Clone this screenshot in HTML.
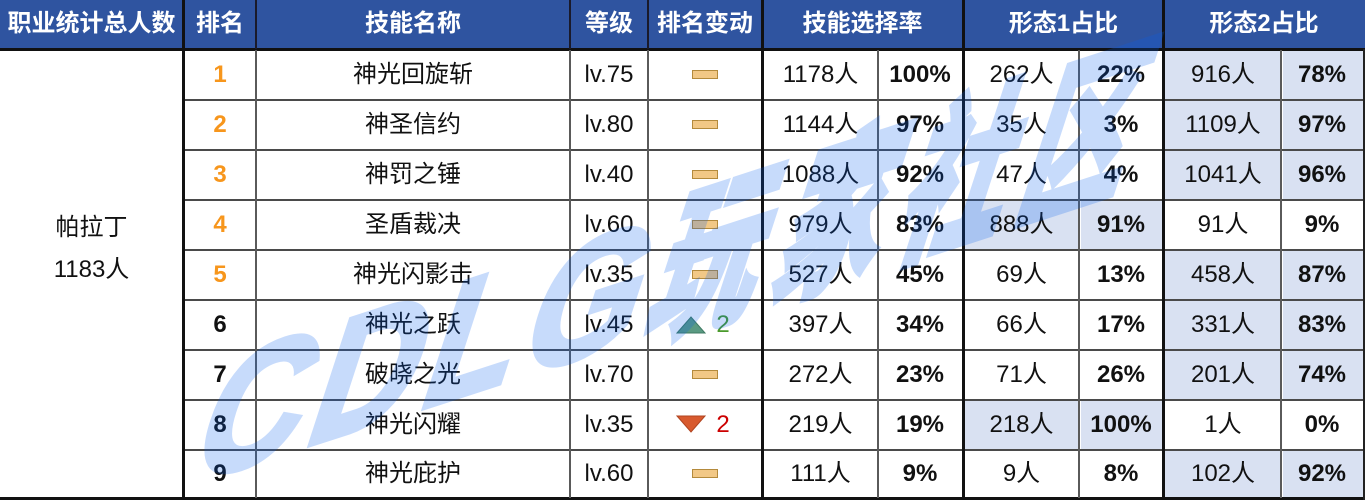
<!DOCTYPE html>
<html><head><meta charset="utf-8">
<style>
*{margin:0;padding:0;box-sizing:border-box}
html,body{width:1365px;height:500px;overflow:hidden;background:#fff}
body{position:relative;font-family:"Liberation Sans","Noto Sans CJK SC",sans-serif;font-size:24px;line-height:24px;color:#111}
.a{position:absolute}
.c{position:absolute;display:flex;align-items:center;justify-content:center;white-space:nowrap;line-height:24px}
.h{color:#fff;font-weight:bold;top:0;height:48px}
.b{font-weight:bold}
.o{color:#f7961c;font-weight:bold}
.hl{position:absolute;background:#d9e1f2}
.vt{position:absolute;top:50px;height:448px;width:2px;background:#5a5a5a}
.vk{position:absolute;top:0;height:500px;width:3px;background:#111}
.vh{position:absolute;top:0;height:49px;width:2px;background:#1a1a2a}
.hr{position:absolute;left:184px;width:1181px;height:2px;background:#4a4a4a}
.rect{position:absolute;width:26px;height:9px;background:#f2c886;border:1px solid #b48a3c}
</style></head><body>

<!-- header -->
<div class="a" style="left:0;top:0;width:1365px;height:49px;background:#2f54a0"></div>

<!-- highlights -->
<div class="hl" style="left:1165px;top:51px;width:116px;height:48px"></div><div class="hl" style="left:1283px;top:51px;width:80px;height:48px"></div>
<div class="hl" style="left:1165px;top:101px;width:116px;height:48px"></div><div class="hl" style="left:1283px;top:101px;width:80px;height:48px"></div>
<div class="hl" style="left:1165px;top:151px;width:116px;height:48px"></div><div class="hl" style="left:1283px;top:151px;width:80px;height:48px"></div>
<div class="hl" style="left:964px;top:201px;width:115px;height:48px"></div><div class="hl" style="left:1081px;top:201px;width:81px;height:48px"></div>
<div class="hl" style="left:1165px;top:251px;width:116px;height:48px"></div><div class="hl" style="left:1283px;top:251px;width:80px;height:48px"></div>
<div class="hl" style="left:1165px;top:301px;width:116px;height:48px"></div><div class="hl" style="left:1283px;top:301px;width:80px;height:48px"></div>
<div class="hl" style="left:1165px;top:351px;width:116px;height:48px"></div><div class="hl" style="left:1283px;top:351px;width:80px;height:48px"></div>
<div class="hl" style="left:964px;top:401px;width:115px;height:48px"></div><div class="hl" style="left:1081px;top:401px;width:81px;height:48px"></div>
<div class="hl" style="left:1165px;top:451px;width:116px;height:46px"></div><div class="hl" style="left:1283px;top:451px;width:80px;height:46px"></div>

<!-- horizontal lines -->
<div class="a" style="left:0;top:48px;width:1365px;height:3px;background:#111"></div>
<div class="hr" style="top:99px"></div>
<div class="hr" style="top:149px"></div>
<div class="hr" style="top:199px"></div>
<div class="hr" style="top:249px"></div>
<div class="hr" style="top:299px"></div>
<div class="hr" style="top:349px"></div>
<div class="hr" style="top:399px"></div>
<div class="hr" style="top:449px"></div>
<div class="a" style="left:0;top:497px;width:1365px;height:3px;background:#111"></div>

<!-- vertical lines -->
<div class="vh" style="left:255px"></div>
<div class="vh" style="left:569px"></div>
<div class="vh" style="left:647px"></div>
<div class="vt" style="left:255px"></div>
<div class="vt" style="left:569px"></div>
<div class="vt" style="left:647px"></div>
<div class="vt" style="left:877px"></div>
<div class="vt" style="left:1078px"></div>
<div class="vt" style="left:1280px"></div>
<div class="vk" style="left:182px"></div>
<div class="vk" style="left:761px"></div>
<div class="vk" style="left:962px"></div>
<div class="vk" style="left:1162px"></div>
<div class="a" style="left:1363px;top:49px;width:2px;height:451px;background:#222"></div>

<!-- header text -->
<div class="c h" style="left:0;width:183px">职业统计总人数</div>
<div class="c h" style="left:184px;width:72px">排名</div>
<div class="c h" style="left:256px;width:314px">技能名称</div>
<div class="c h" style="left:570px;width:78px">等级</div>
<div class="c h" style="left:648px;width:114px">排名变动</div>
<div class="c h" style="left:763px;width:199px">技能选择率</div>
<div class="c h" style="left:964px;width:199px">形态1占比</div>
<div class="c h" style="left:1165px;width:198px">形态2占比</div>

<!-- col1 -->
<div class="c" style="left:0;top:207px;width:183px;height:42px">帕拉丁</div>
<div class="c" style="left:0;top:249px;width:183px;height:42px">1183人</div>

<!-- r1 -->
<div class="c o" style="left:184px;top:50px;width:72px;height:50px">1</div>
<div class="c" style="left:256px;top:50px;width:314px;height:50px">神光回旋斩</div>
<div class="c" style="left:570px;top:50px;width:78px;height:50px">lv.75</div>
<div class="rect" style="left:692px;top:70px"></div>
<div class="c" style="left:763px;top:50px;width:115px;height:50px">1178人</div>
<div class="c b" style="left:878px;top:50px;width:84px;height:50px">100%</div>
<div class="c" style="left:964px;top:50px;width:115px;height:50px">262人</div>
<div class="c b" style="left:1079px;top:50px;width:84px;height:50px">22%</div>
<div class="c" style="left:1165px;top:50px;width:116px;height:50px">916人</div>
<div class="c b" style="left:1281px;top:50px;width:82px;height:50px">78%</div>
<!-- r2 -->
<div class="c o" style="left:184px;top:100px;width:72px;height:50px">2</div>
<div class="c" style="left:256px;top:100px;width:314px;height:50px">神圣信约</div>
<div class="c" style="left:570px;top:100px;width:78px;height:50px">lv.80</div>
<div class="rect" style="left:692px;top:120px"></div>
<div class="c" style="left:763px;top:100px;width:115px;height:50px">1144人</div>
<div class="c b" style="left:878px;top:100px;width:84px;height:50px">97%</div>
<div class="c" style="left:964px;top:100px;width:115px;height:50px">35人</div>
<div class="c b" style="left:1079px;top:100px;width:84px;height:50px">3%</div>
<div class="c" style="left:1165px;top:100px;width:116px;height:50px">1109人</div>
<div class="c b" style="left:1281px;top:100px;width:82px;height:50px">97%</div>
<!-- r3 -->
<div class="c o" style="left:184px;top:150px;width:72px;height:50px">3</div>
<div class="c" style="left:256px;top:150px;width:314px;height:50px">神罚之锤</div>
<div class="c" style="left:570px;top:150px;width:78px;height:50px">lv.40</div>
<div class="rect" style="left:692px;top:170px"></div>
<div class="c" style="left:763px;top:150px;width:115px;height:50px">1088人</div>
<div class="c b" style="left:878px;top:150px;width:84px;height:50px">92%</div>
<div class="c" style="left:964px;top:150px;width:115px;height:50px">47人</div>
<div class="c b" style="left:1079px;top:150px;width:84px;height:50px">4%</div>
<div class="c" style="left:1165px;top:150px;width:116px;height:50px">1041人</div>
<div class="c b" style="left:1281px;top:150px;width:82px;height:50px">96%</div>
<!-- r4 -->
<div class="c o" style="left:184px;top:200px;width:72px;height:50px">4</div>
<div class="c" style="left:256px;top:200px;width:314px;height:50px">圣盾裁决</div>
<div class="c" style="left:570px;top:200px;width:78px;height:50px">lv.60</div>
<div class="rect" style="left:692px;top:220px"></div>
<div class="c" style="left:763px;top:200px;width:115px;height:50px">979人</div>
<div class="c b" style="left:878px;top:200px;width:84px;height:50px">83%</div>
<div class="c" style="left:964px;top:200px;width:115px;height:50px">888人</div>
<div class="c b" style="left:1079px;top:200px;width:84px;height:50px">91%</div>
<div class="c" style="left:1165px;top:200px;width:116px;height:50px">91人</div>
<div class="c b" style="left:1281px;top:200px;width:82px;height:50px">9%</div>
<!-- r5 -->
<div class="c o" style="left:184px;top:250px;width:72px;height:50px">5</div>
<div class="c" style="left:256px;top:250px;width:314px;height:50px">神光闪影击</div>
<div class="c" style="left:570px;top:250px;width:78px;height:50px">lv.35</div>
<div class="rect" style="left:692px;top:270px"></div>
<div class="c" style="left:763px;top:250px;width:115px;height:50px">527人</div>
<div class="c b" style="left:878px;top:250px;width:84px;height:50px">45%</div>
<div class="c" style="left:964px;top:250px;width:115px;height:50px">69人</div>
<div class="c b" style="left:1079px;top:250px;width:84px;height:50px">13%</div>
<div class="c" style="left:1165px;top:250px;width:116px;height:50px">458人</div>
<div class="c b" style="left:1281px;top:250px;width:82px;height:50px">87%</div>
<!-- r6 -->
<div class="c b" style="left:184px;top:300px;width:72px;height:50px">6</div>
<div class="c" style="left:256px;top:300px;width:314px;height:50px">神光之跃</div>
<div class="c" style="left:570px;top:300px;width:78px;height:50px">lv.45</div>
<svg class="a" style="left:676px;top:316px" width="30" height="18"><polygon points="1,17 15,1 29,17" fill="#5a9a82" stroke="#3f7a63" stroke-width="1"/></svg>
<div class="c" style="left:710px;top:300px;width:26px;height:50px;color:#4a9a2c">2</div>
<div class="c" style="left:763px;top:300px;width:115px;height:50px">397人</div>
<div class="c b" style="left:878px;top:300px;width:84px;height:50px">34%</div>
<div class="c" style="left:964px;top:300px;width:115px;height:50px">66人</div>
<div class="c b" style="left:1079px;top:300px;width:84px;height:50px">17%</div>
<div class="c" style="left:1165px;top:300px;width:116px;height:50px">331人</div>
<div class="c b" style="left:1281px;top:300px;width:82px;height:50px">83%</div>
<!-- r7 -->
<div class="c b" style="left:184px;top:350px;width:72px;height:50px">7</div>
<div class="c" style="left:256px;top:350px;width:314px;height:50px">破晓之光</div>
<div class="c" style="left:570px;top:350px;width:78px;height:50px">lv.70</div>
<div class="rect" style="left:692px;top:370px"></div>
<div class="c" style="left:763px;top:350px;width:115px;height:50px">272人</div>
<div class="c b" style="left:878px;top:350px;width:84px;height:50px">23%</div>
<div class="c" style="left:964px;top:350px;width:115px;height:50px">71人</div>
<div class="c b" style="left:1079px;top:350px;width:84px;height:50px">26%</div>
<div class="c" style="left:1165px;top:350px;width:116px;height:50px">201人</div>
<div class="c b" style="left:1281px;top:350px;width:82px;height:50px">74%</div>
<!-- r8 -->
<div class="c b" style="left:184px;top:400px;width:72px;height:50px">8</div>
<div class="c" style="left:256px;top:400px;width:314px;height:50px">神光闪耀</div>
<div class="c" style="left:570px;top:400px;width:78px;height:50px">lv.35</div>
<svg class="a" style="left:676px;top:415px" width="30" height="18"><polygon points="1,1 29,1 15,17" fill="#d85a2e" stroke="#b04420" stroke-width="1"/></svg>
<div class="c" style="left:710px;top:400px;width:26px;height:50px;color:#cc0000">2</div>
<div class="c" style="left:763px;top:400px;width:115px;height:50px">219人</div>
<div class="c b" style="left:878px;top:400px;width:84px;height:50px">19%</div>
<div class="c" style="left:964px;top:400px;width:115px;height:50px">218人</div>
<div class="c b" style="left:1079px;top:400px;width:84px;height:50px">100%</div>
<div class="c" style="left:1165px;top:400px;width:116px;height:50px">1人</div>
<div class="c b" style="left:1281px;top:400px;width:82px;height:50px">0%</div>
<!-- r9 -->
<div class="c b" style="left:184px;top:450px;width:72px;height:48px">9</div>
<div class="c" style="left:256px;top:450px;width:314px;height:48px">神光庇护</div>
<div class="c" style="left:570px;top:450px;width:78px;height:48px">lv.60</div>
<div class="rect" style="left:692px;top:469px"></div>
<div class="c" style="left:763px;top:450px;width:115px;height:48px">111人</div>
<div class="c b" style="left:878px;top:450px;width:84px;height:48px">9%</div>
<div class="c" style="left:964px;top:450px;width:115px;height:48px">9人</div>
<div class="c b" style="left:1079px;top:450px;width:84px;height:48px">8%</div>
<div class="c" style="left:1165px;top:450px;width:116px;height:48px">102人</div>
<div class="c b" style="left:1281px;top:450px;width:82px;height:48px">92%</div>

<!-- watermark -->
<svg class="a" style="left:0;top:0;pointer-events:none;overflow:hidden" width="1365" height="500" viewBox="0 0 1365 500">
 <g opacity="0.22">
 <g transform="translate(186,485) rotate(-18) skewX(-36)" fill="rgb(5,95,241)" stroke="rgb(5,95,241)" stroke-width="5" stroke-linejoin="miter" font-family="'Liberation Sans','Noto Sans CJK SC',sans-serif" font-weight="900" font-size="155">
  <text transform="translate(0,0) scale(1,1)">C</text>
  <text transform="translate(120,0) scale(1,1)">D</text>
  <text transform="translate(240,0) scale(1,1)">L</text>
  <text transform="translate(345,0) scale(1,1)">G</text>
  <text transform="translate(478,0) scale(0.74,1)">玩</text>
  <text transform="translate(610,0) scale(0.74,1)">家</text>
  <text transform="translate(740,0) scale(0.74,1)">社</text>
  <text transform="translate(868,0) scale(0.74,1)">区</text>
 </g>
 </g>
</svg>
</body></html>
